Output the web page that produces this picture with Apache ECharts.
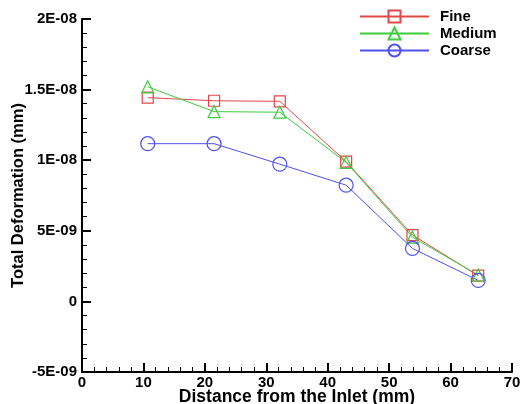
<!DOCTYPE html>
<html>
<head>
<meta charset="utf-8">
<script src="https://cdn.jsdelivr.net/npm/echarts@6/dist/echarts.min.js"></script>
<style>html,body{margin:0;padding:0;background:#fff}#c{width:521px;height:404px}</style>
</head>
<body>
<div id="c"></div>
<script>
var xValues = [10.7, 21.5, 32.2, 43.0, 53.8, 64.5];
var fine = [1.443e-8, 1.421e-8, 1.417e-8, 9.9e-9, 4.7e-9, 1.82e-9];
var medium = [1.52e-8, 1.344e-8, 1.34e-8, 9.85e-9, 4.55e-9, 1.87e-9];
var coarse = [1.117e-8, 1.117e-8, 9.72e-9, 8.23e-9, 3.75e-9, 1.49e-9];
var yTickLabels = ['-5E-09', '0', '5E-09', '1E-08', '1.5E-08', '2E-08'];
var seriesNames = ['Fine', 'Medium', 'Coarse'];

function pairs(ys) { return xValues.map(function (x, i) { return [x, ys[i]]; }); }

var font = 'Liberation Sans, Arial, Helvetica, sans-serif';
var colors = ['#e04848', '#3ccc3c', '#5050f0'];
var symbols = ['rect', 'triangle', 'circle'];
var sizes = [11, 12, 14];
var datas = [fine, medium, coarse];

var chart = echarts.init(document.getElementById('c'));
chart.setOption({
  animation: false,
  backgroundColor: '#fff',
  grid: { left: 82, right: 9, top: 19, bottom: 32, containLabel: false, outerBoundsMode: 'none' },
  legend: {
    orient: 'vertical', left: 354, top: 4,
    itemWidth: 69, itemHeight: 15, itemGap: 2,
    textStyle: { fontFamily: font, fontWeight: 'bold', fontSize: 15, color: '#000', padding: [0, 0, 0, 6] },
    data: seriesNames
  },
  xAxis: {
    type: 'value', min: 0, max: 70, interval: 10,
    name: 'Distance from the Inlet (mm)', nameLocation: 'middle', nameGap: 16, nameMoveOverlap: false,
    nameTextStyle: { fontFamily: font, fontWeight: 'bold', fontSize: 17.5, color: '#000' },
    axisLine: { onZero: false, lineStyle: { color: '#000', width: 2 } },
    axisTick: { inside: true, length: 9, lineStyle: { color: '#000', width: 2 } },
    minorTick: { show: true, splitNumber: 5, length: 5, lineStyle: { color: '#000', width: 1 } },
    splitLine: { show: false },
    axisLabel: { margin: 3, fontFamily: font, fontWeight: 'bold', fontSize: 15, color: '#000' }
  },
  yAxis: {
    type: 'value', min: -5e-9, max: 2e-8, interval: 5e-9,
    name: 'Total Deformation (mm)', nameLocation: 'middle', nameGap: 55, nameMoveOverlap: false,
    nameTextStyle: { fontFamily: font, fontWeight: 'bold', fontSize: 16.5, color: '#000' },
    axisLine: { onZero: false, lineStyle: { color: '#000', width: 2 } },
    axisTick: { inside: true, length: 9, lineStyle: { color: '#000', width: 2 } },
    minorTick: { show: true, splitNumber: 5, length: 5, lineStyle: { color: '#000', width: 1 } },
    splitLine: { show: false },
    axisLabel: {
      margin: 5, fontFamily: font, fontWeight: 'bold', fontSize: 15, color: '#000',
      formatter: function (v, i) { return yTickLabels[i]; }
    }
  },
  series: seriesNames.map(function (n, k) {
    return {
      name: n, type: 'line', data: pairs(datas[k]),
      symbol: symbols[k], symbolSize: sizes[k],
      lineStyle: { color: colors[k], width: 1 },
      itemStyle: { color: 'rgba(0,0,0,0)', borderColor: colors[k], borderWidth: 1.2 },
      emphasis: { disabled: true }
    };
  })
});
</script>
</body>
</html>
